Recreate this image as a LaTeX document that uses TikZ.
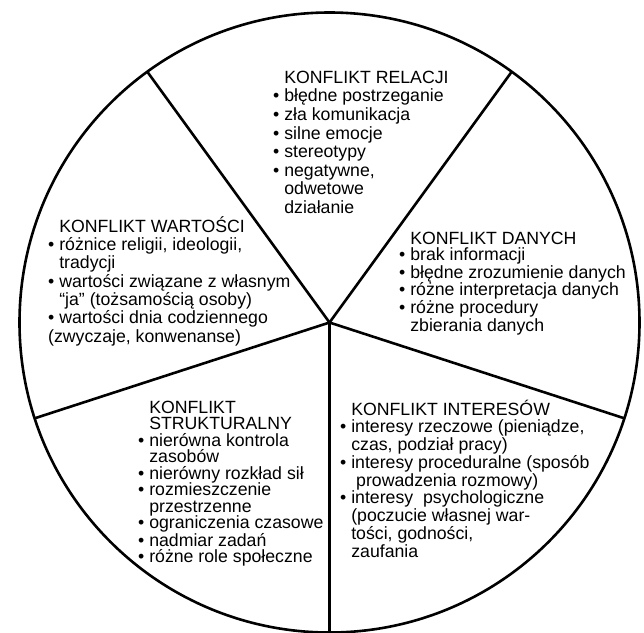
\documentclass[tikz,border=0pt]{standalone}
\usepackage{fontspec}
\setmainfont{Liberation Sans}
\usetikzlibrary{calc}
\usetikzlibrary{positioning}
\tikzstyle{sektor} = [anchor=north west, inner sep=0pt, align=left]
\tikzstyle{szprycha} = [draw, line width=2.6pt]
\newcommand{\pkt}{•\ }
\newcommand{\wc}{\phantom{•\ }}
\newcommand{\pierwsza}{\rule{0pt}{16pt}}

\begin{document}
\begin{tikzpicture}[x=1pt, y=-1pt,
        tekst/.style={font=\fontsize{17.7}{#1}\selectfont}]
        \useasboundingbox (0,0) rectangle (644,632);
        %% Kolo
        \coordinate (srodek) at (329.5,322.5);
        \draw [line width=2.6pt] (srodek) circle (310pt);
        \foreach \kat in {18,90,162,234,306}
            \path [szprycha] (srodek) -- ($(srodek)+(\kat:310)$);
        %% Sektory
        \node [sektor, tekst=18.6] at (273,67) (relacje) {\pierwsza\wc KONFLIKT RELACJI\\
            \pkt błędne postrzeganie\\ \pkt zła komunikacja\\ \pkt silne emocje\\
            \pkt stereotypy\\ \pkt negatywne,\\ \wc odwetowe\\ \wc działanie};
        \node [sektor, tekst=18.3] at (48,216) (wartosci) {\pierwsza\wc KONFLIKT WARTOŚCI\\
            \pkt różnice religii, ideologii,\\ \wc tradycji\\
            \pkt wartości związane z własnym\\ \wc “ja” (tożsamością osoby)\\
            \pkt wartości dnia codziennego\\ (zwyczaje, konwenanse)};
        \node [sektor, tekst=16.4] at (399,228) (dane) {\pierwsza\wc KONFLIKT DANYCH\\
            \pkt brak informacji\\ \pkt błędne zrozumienie danych\\
            \pkt różne interpretacja danych\\ \pkt różne procedury\\ \wc zbierania danych};
        \node [sektor, tekst=16.5] at (138,397) (struktura) {\pierwsza\wc KONFLIKT\\
            \wc STRUKTURALNY\\ \pkt nierówna kontrola\\ \wc zasobów\\
            \pkt nierówny rozkład sił\\ \pkt rozmieszczenie\\ \wc przestrzenne\\
            \pkt ograniczenia czasowe\\ \pkt nadmiar zadań\\ \pkt różne role społeczne};
        \node [sektor, tekst=17.75] at (340,399) (interesy) {\pierwsza\wc KONFLIKT INTERESÓW\\
            \pkt interesy rzeczowe (pieniądze,\\ \wc czas, podział pracy)\\
            \pkt interesy proceduralne (sposób\\ \wc\ prowadzenia rozmowy)\\
            \pkt interesy\ \ psychologiczne\\ \wc (poczucie własnej war-\\
            \wc tości, godności,\\ \wc zaufania};
    \end{tikzpicture}
\end{document}
